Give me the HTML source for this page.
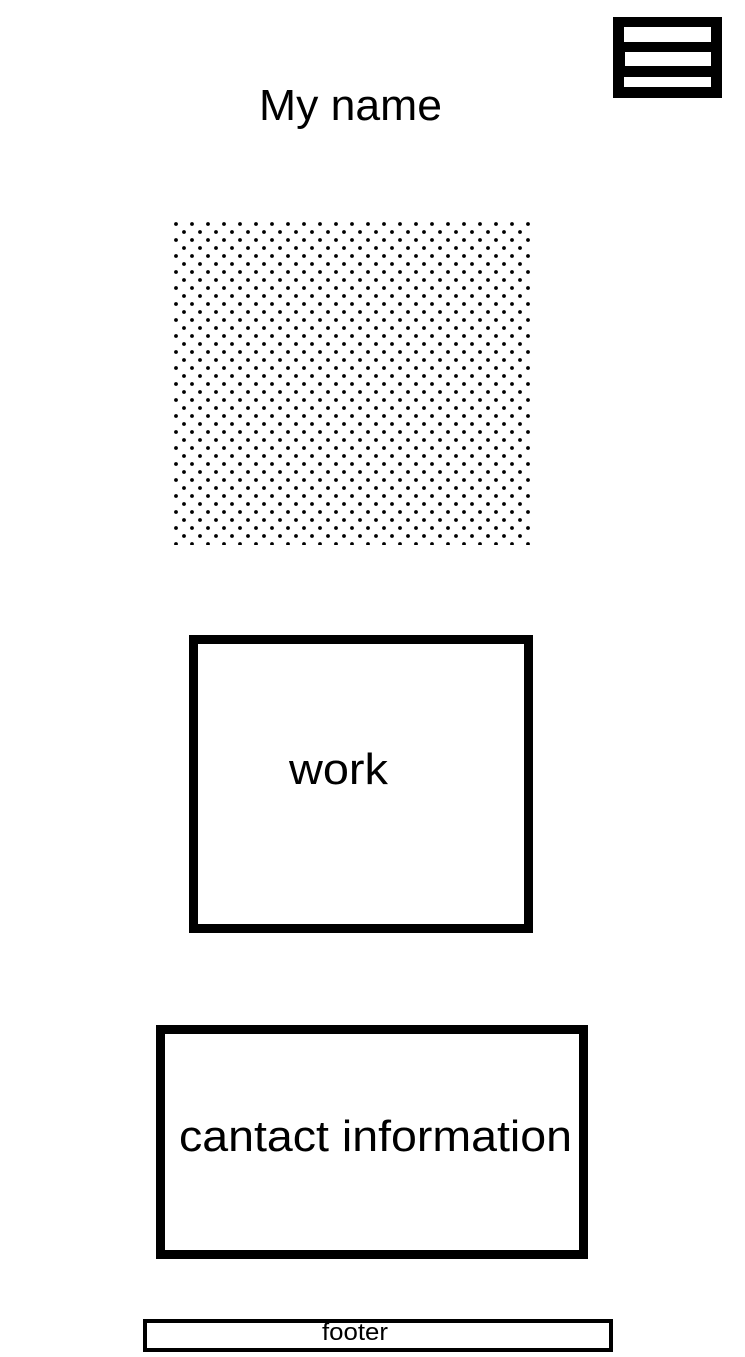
<!DOCTYPE html>
<html><head><meta charset="utf-8"><style>
html,body{margin:0;padding:0;background:#fff;width:745px;height:1357px;overflow:hidden}
svg{display:block}
text{font-family:"Liberation Sans",sans-serif;fill:#000}
</style></head><body>
<svg width="745" height="1357" viewBox="0 0 745 1357">
<defs>
<pattern id="dots" x="173" y="221" width="16" height="16" patternUnits="userSpaceOnUse">
<circle cx="3" cy="3" r="1.9" fill="#000"/>
<circle cx="11" cy="11" r="1.9" fill="#000"/>
</pattern>
</defs>
<g>
<rect x="613" y="17" width="109" height="81" fill="#000"/>
<rect x="624" y="27" width="87" height="15" fill="#fff"/>
<rect x="625" y="52" width="86" height="14" fill="#fff"/>
<rect x="624" y="77" width="87" height="10" fill="#fff"/>
</g>
<text x="259" y="120" font-size="44" textLength="183" lengthAdjust="spacingAndGlyphs">My name</text>
<rect x="173" y="221" width="357" height="324" fill="url(#dots)"/>
<g>
<rect x="193.5" y="639.5" width="335" height="289" fill="none" stroke="#000" stroke-width="9"/>
<text x="289" y="784" font-size="44" textLength="99" lengthAdjust="spacingAndGlyphs">work</text>
</g>
<g>
<rect x="160.5" y="1029.5" width="423" height="225" fill="none" stroke="#000" stroke-width="9"/>
<text x="179" y="1151" font-size="44" textLength="393" lengthAdjust="spacingAndGlyphs">cantact information</text>
</g>
<g>
<rect x="145" y="1321" width="466" height="29" fill="none" stroke="#000" stroke-width="4"/>
<text x="322" y="1340" font-size="24" textLength="66" lengthAdjust="spacingAndGlyphs">footer</text>
</g>
</svg>
</body></html>
